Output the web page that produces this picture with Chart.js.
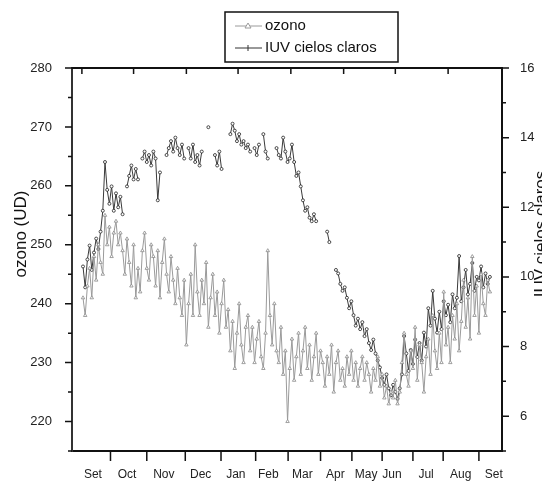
<!DOCTYPE html>
<html>
<head>
<meta charset="utf-8">
<script src="https://cdn.jsdelivr.net/npm/chart.js@4.4.1/dist/chart.umd.min.js"></script>
<style>
  html, body { margin: 0; padding: 0; background: #fff; }
  #grafico { display: block; }
</style>
</head>
<body>
<canvas id="grafico" width="542" height="481"></canvas>
<script>
// dia de la serie (0 = fines de agosto)
const dias = [
  10, 12, 14, 16, 18, 20, 22, 24, 26, 28,
  30, 32, 34, 36, 38, 40, 42, 44, 46, 48,
  50, 52, 54, 56, 58, 60, 62, 64, 66, 68,
  70, 72, 74, 76, 78, 80, 82, 84, 86, 88,
  90, 92, 94, 96, 98, 100, 102, 104, 106, 108,
  110, 112, 114, 116, 118, 120, 122, 124, 126, 128,
  130, 132, 134, 136, 138, 140, 142, 144, 146, 148,
  150, 152, 154, 156, 158, 160, 162, 164, 166, 168,
  170, 172, 174, 176, 178, 180, 182, 184, 186, 188,
  190, 192, 194, 196, 198, 200, 202, 204, 206, 208,
  210, 212, 214, 216, 218, 220, 222, 224, 226, 228,
  230, 232, 234, 236, 238, 240, 242, 244, 246, 248,
  250, 252, 254, 256, 258, 260, 262, 264, 266, 268,
  270, 272, 274, 276, 278, 280, 282, 284, 286, 288,
  290, 292, 294, 296, 298, 300, 302, 304, 306, 308,
  310, 312, 314, 316, 318, 320, 322, 324, 326, 328,
  330, 332, 334, 336, 338, 340, 342, 344, 346, 348,
  350, 352, 354, 356, 358, 360, 362, 364, 366, 368,
  370, 372, 374, 376, 378, 380
];

const ozono = [
  241, 238, 243, 246, 241, 248, 244, 250, 247, 245,
  255, 250, 253, 248, 252, 254, 250, 252, 249, 245,
  251, 247, 243, 250, 241, 246, 242, 249, 252, 246,
  244, 250, 248, 243, 249, 241, 247, 251, 245, 242,
  248, 244, 240, 246, 241, 238, 244, 233, 240, 245,
  238, 250, 242, 238, 244, 240, 247, 236, 241, 245,
  238, 242, 235, 240, 244, 236, 239, 232, 237, 229,
  235, 240, 233, 230, 236, 238, 232, 236, 230, 234,
  237, 231, 229, 235, 249, 238, 233, 240, 232, 230,
  236, 228, 232, 220, 229, 234, 227, 231, 235, 228,
  232, 236, 229, 233, 227, 231, 235, 228, 232, 230,
  226, 231, 228, 233, 225, 230, 232, 227, 229, 226,
  231, 228, 232, 227, 230, 226, 229, 231, 227, 230,
  228, 225, 229, 227, 231, 226, 228, 224, 226, 223,
  225, 224, 227, 223, 225, 230, 235, 228, 226, 232,
  229, 236, 227, 233, 230, 225, 231, 234, 228, 238,
  232, 229, 235, 230, 242, 233, 236, 230, 238, 234,
  240, 232, 237, 244, 236, 241, 234, 248, 238, 243,
  235, 245, 240, 238, 244, 242
];

const iuv = [
  10.3, 9.7, 10.5, 10.9, 10.2, 10.7, 11.1, 10.8, 11.3, 11.9,
  13.3, 12.5, 12.1, 12.6, 11.9, 12.4, 12.0, 12.3, 11.8, null,
  12.6, 12.9, 13.2, 12.8, 13.1, 12.8, null, 13.4, 13.6, 13.3,
  13.5, 13.2, 13.6, 13.4, 12.2, 13.0, null, null, 13.5, 13.7,
  13.9, 13.6, 14.0, 13.7, 13.5, 13.8, 13.4, null, 13.7, 13.4,
  13.8, 13.3, 13.5, 13.2, 13.6, null, null, 14.3, null, null,
  13.5, 13.2, 13.6, 13.1, null, null, null, 14.1, 14.4, 14.2,
  13.9, 14.1, 13.8, 13.9, 13.7, 13.8, 13.6, null, 13.7, 13.5,
  13.8, null, 14.1, 13.6, 13.4, null, null, null, 13.7, 13.5,
  13.4, 14.0, 13.6, 13.3, 13.4, 13.8, 13.3, 12.9, 13.0, 12.6,
  12.2, 11.9, 12.0, 11.7, 11.6, 11.8, 11.6, null, null, null,
  null, 11.3, 11.0, null, null, 10.2, 10.1, 9.8, 9.6, 9.7,
  9.4, 9.1, 9.3, 8.9, 8.6, 8.8, 8.5, 8.7, 8.3, 8.5,
  8.1, 7.9, 8.2, 7.8, 7.6, 7.4, 7.1, 6.9, 7.2, 6.8,
  6.6, 6.9, 6.7, 6.5, 6.8, 7.2, 8.3, 7.8, 7.3, 7.9,
  7.5, 8.2, 7.7, 8.1, 7.6, 8.4, 8.0, 9.1, 8.6, 9.6,
  8.8, 8.4, 9.0, 8.5, 9.3, 8.9, 9.2, 8.7, 9.5, 9.1,
  9.4, 10.6, 9.3, 9.7, 10.2, 9.5, 9.8, 10.4, 9.6, 10.0,
  9.9, 10.3, 9.7, 10.1, 9.8, 10.0
];

const meses = ['Set', 'Oct', 'Nov', 'Dec', 'Jan', 'Feb', 'Mar', 'Apr', 'May', 'Jun', 'Jul', 'Aug', 'Set'];
const centrosMes = [19, 50, 83.5, 117, 149, 178.5, 209.5, 239.5, 267.5, 291, 322, 353.5, 383.5];
const limitesMes = [35, 68, 103, 135.5, 167, 196.5, 226, 254.5, 282, 310, 337.5, 370];
const marcasSup = [9, 56, 104, 151, 199, 247, 294, 342];
const ticksOzono = [220, 230, 240, 250, 260, 270, 280];
const ticksIUV = [6, 8, 10, 12, 14, 16];

const fuente = '"Liberation Sans", Arial, sans-serif';

// marco, marcas de los ejes, titulos y leyenda
const decorado = {
  id: 'decorado',
  afterDatasetsDraw(chart) {
    const { ctx, chartArea: a, scales } = chart;
    const sx = scales.x, sy = scales.y, sy1 = scales.y1;
    ctx.save();

    ctx.strokeStyle = '#111';
    ctx.lineWidth = 2;
    ctx.beginPath();
    ctx.moveTo(a.left, a.top);
    ctx.lineTo(a.right + 1, a.top);
    ctx.stroke();

    ctx.lineWidth = 1.5;
    ctx.beginPath();
    for (let v = 215; v <= 280; v += 5) {
      const p = sy.getPixelForValue(v);
      const len = v % 10 === 0 ? 7 : 4;
      ctx.moveTo(a.left - len, p);
      ctx.lineTo(a.left, p);
    }
    for (let v = 5; v <= 16; v += 1) {
      const p = sy1.getPixelForValue(v);
      const len = v % 2 === 0 ? 7 : 4;
      ctx.moveTo(a.right, p);
      ctx.lineTo(a.right + len, p);
    }
    limitesMes.forEach(d => {
      const p = sx.getPixelForValue(d);
      ctx.moveTo(p, a.bottom);
      ctx.lineTo(p, a.bottom + 10);
    });
    marcasSup.forEach(d => {
      const p = sx.getPixelForValue(d);
      ctx.moveTo(p, a.top);
      ctx.lineTo(p, a.top + 6);
    });
    ctx.stroke();

    // titulos de los ejes
    ctx.fillStyle = '#111';
    ctx.font = '17px ' + fuente;
    ctx.textAlign = 'center';
    ctx.textBaseline = 'middle';
    ctx.save();
    ctx.translate(21, 234);
    ctx.rotate(-Math.PI / 2);
    ctx.fillText('ozono (UD)', 0, 0);
    ctx.restore();
    ctx.save();
    ctx.translate(541, 234);
    ctx.rotate(-Math.PI / 2);
    ctx.fillText('IUV cielos claros', 0, 0);
    ctx.restore();

    // leyenda
    ctx.lineWidth = 1.5;
    ctx.strokeStyle = '#111';
    ctx.strokeRect(225, 12, 173, 50);
    ctx.font = '15px ' + fuente;
    ctx.textAlign = 'left';
    ctx.fillText('ozono', 265, 26);
    ctx.fillText('IUV cielos claros', 265, 48);

    ctx.lineWidth = 1;
    ctx.strokeStyle = '#9a9a9a';
    ctx.beginPath();
    ctx.moveTo(235, 26); ctx.lineTo(262, 26);
    ctx.stroke();
    ctx.beginPath();
    ctx.moveTo(248, 23); ctx.lineTo(251, 28); ctx.lineTo(245, 28); ctx.closePath();
    ctx.fillStyle = '#fff';
    ctx.fill();
    ctx.stroke();

    ctx.strokeStyle = '#333';
    ctx.beginPath();
    ctx.moveTo(235, 48); ctx.lineTo(262, 48);
    ctx.moveTo(248, 45); ctx.lineTo(248, 51);
    ctx.stroke();

    ctx.restore();
  }
};

new Chart(document.getElementById('grafico'), {
  type: 'line',
  data: {
    datasets: [
      {
        label: 'ozono',
        data: dias.map((d, i) => ({ x: d, y: ozono[i] })),
        yAxisID: 'y',
        borderColor: '#9a9a9a',
        borderWidth: 1,
        pointStyle: 'triangle',
        pointRadius: 2,
        pointBorderColor: '#8a8a8a',
        pointBackgroundColor: '#fff',
        pointBorderWidth: 0.8,
        spanGaps: false,
        tension: 0
      },
      {
        label: 'IUV cielos claros',
        data: dias.map((d, i) => ({ x: d, y: iuv[i] })),
        yAxisID: 'y1',
        borderColor: '#3a3a3a',
        borderWidth: 1,
        pointStyle: 'circle',
        pointRadius: 1.5,
        pointBorderColor: '#222',
        pointBackgroundColor: '#fff',
        pointBorderWidth: 0.8,
        spanGaps: false,
        tension: 0
      }
    ]
  },
  options: {
    responsive: false,
    animation: false,
    devicePixelRatio: 1,
    layout: { padding: { top: 68, left: 0, right: 0, bottom: 0 } },
    plugins: {
      legend: { display: false },
      tooltip: { enabled: false }
    },
    scales: {
      x: {
        type: 'linear',
        min: 0,
        max: 391,
        afterBuildTicks: s => { s.ticks = centrosMes.map(v => ({ value: v })); },
        afterFit: s => { s.height = 30; },
        grid: { display: false },
        border: { display: true, color: '#111', width: 2 },
        ticks: {
          autoSkip: false,
          maxRotation: 0,
          minRotation: 0,
          padding: 8,
          color: '#222',
          font: { family: fuente, size: 12 },
          callback: (v, i) => meses[i]
        }
      },
      y: {
        position: 'left',
        min: 215,
        max: 280,
        afterBuildTicks: s => { s.ticks = ticksOzono.map(v => ({ value: v })); },
        afterFit: s => { s.width = 72; },
        grid: { display: false },
        border: { display: true, color: '#333', width: 2 },
        ticks: {
          padding: 12,
          color: '#222',
          font: { family: fuente, size: 13 }
        }
      },
      y1: {
        position: 'right',
        min: 5,
        max: 16,
        afterBuildTicks: s => { s.ticks = ticksIUV.map(v => ({ value: v })); },
        afterFit: s => { s.width = 40; },
        grid: { display: false },
        border: { display: true, color: '#111', width: 2 },
        ticks: {
          padding: 10,
          color: '#222',
          font: { family: fuente, size: 13 }
        }
      }
    }
  },
  plugins: [decorado]
});
</script>
</body>
</html>
